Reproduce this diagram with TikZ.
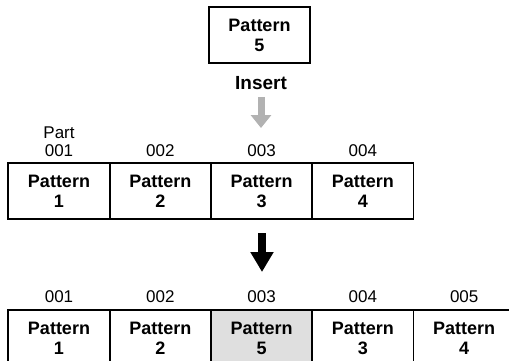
\documentclass[tikz,border=0pt]{standalone}
\usepackage{fontspec}
\setmainfont{Liberation Sans}
\usetikzlibrary{arrows.meta}
\begin{document}
\begin{tikzpicture}[x=1pt,y=-1pt,
  patbox/.style={draw=black,line width=1.8pt,minimum width=101.3pt,minimum height=56pt,
    inner sep=0pt,align=center,font=\fontsize{18}{20}\selectfont\bfseries},
  numlbl/.style={inner sep=0pt,align=center,font=\fontsize{17}{18}\selectfont},
  insertlbl/.style={inner sep=0pt,font=\fontsize{19}{20}\selectfont\bfseries},
  grayarrow/.style={draw=gray!60,line width=7pt,line cap=butt,-{Triangle[width=20pt,length=13pt]}},
  blackarrow/.style={draw=black,line width=8pt,line cap=butt,-{Triangle[width=22pt,length=20pt]}}]
\useasboundingbox (0,0) rectangle (509,361);
\clip (0,0) rectangle (509,361);
% top
\node[patbox] (p5) at (259.5,35) {Pattern\\5};
\node[insertlbl] (ins) at (261,83) {Insert};
\coordinate (g1) at (261,97);
\coordinate (g2) at (261,128);
\draw[grayarrow] (g1) -- (g2);
% row 1
\node[patbox] (a1) at (59,191) {Pattern\\1};
\node[patbox] (a2) at (160.3,191) {Pattern\\2};
\node[patbox] (a3) at (261.6,191) {Pattern\\3};
\node[patbox] (a4) at (362.9,191) {Pattern\\4};
\node[numlbl] (la1) at (59,142) {Part\\001};
\node[numlbl] (la2) at (160.3,151) {002};
\node[numlbl] (la3) at (261.6,151) {003};
\node[numlbl] (la4) at (362.9,151) {004};
% arrow
\coordinate (b1) at (262,233);
\coordinate (b2) at (262,272);
\draw[blackarrow] (b1) -- (b2);
% row 2
\node[patbox] (c1) at (59,338) {Pattern\\1};
\node[patbox] (c2) at (160.3,338) {Pattern\\2};
\node[patbox,fill=gray!25] (c3) at (261.6,338) {Pattern\\5};
\node[patbox] (c4) at (362.9,338) {Pattern\\3};
\node[patbox] (c5) at (464.2,338) {Pattern\\4};
\node[numlbl] (lc1) at (59,297) {001};
\node[numlbl] (lc2) at (160.3,297) {002};
\node[numlbl] (lc3) at (261.6,297) {003};
\node[numlbl] (lc4) at (362.9,297) {004};
\node[numlbl] (lc5) at (464.2,297) {005};
\end{tikzpicture}
\end{document}
